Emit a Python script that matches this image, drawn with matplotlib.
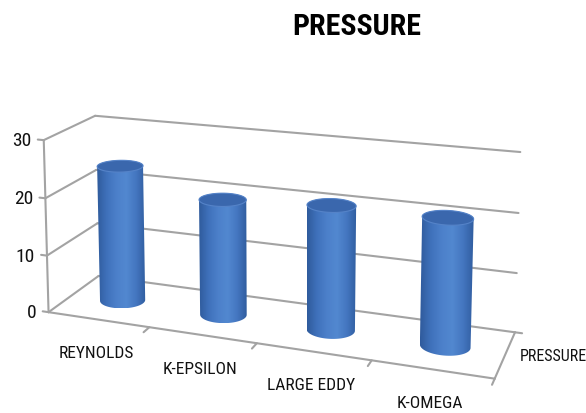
import numpy as np
import matplotlib
matplotlib.use("Agg")
import matplotlib.pyplot as plt
from matplotlib import font_manager
from matplotlib.patches import Polygon
from matplotlib.colors import LinearSegmentedColormap

categories = ["REYNOLDS", "K-EPSILON", "LARGE EDDY", "K-OMEGA"]
pressure = [24, 20, 21, 21]
y_ticks = [0, 10, 20, 30]
series_name = "PRESSURE"
title = "PRESSURE"

# where corners of the 3d box (category, value, depth) land in the picture, in pixels
box_corners = [
    ((0, 0, 0), (50, 312)),
    ((0, 30, 0), (42, 142)),
    ((0, 0, 1), (97, 278)),
    ((0, 30, 1), (97, 116)),
    ((4, 30, 1), (520, 153)),
    ((4, 0, 1), (515, 333)),
    ((4, 0, 0), (495, 380)),
]

# look for a narrow face, the reference text is very condensed
names = sorted({f.name for f in font_manager.fontManager.ttflist})
narrow = None
for cand in ["Liberation Sans Narrow", "DejaVu Sans Condensed", "Roboto Condensed",
             "Open Sans Condensed"]:
    if cand in names:
        narrow = cand
        break
if narrow is None:
    others = [n for n in names if "Narrow" in n or "Condensed" in n]
    narrow = others[0] if others else None
squeeze = 1.0 if narrow else 0.78
if narrow is None:
    narrow = "Liberation Sans"


def fit_camera(corners):
    # plain DLT fit of a 3x4 projection
    rows = []
    for (x, v, d), (u, w) in corners:
        X = np.array([x / 4, v / 30, d, 1.0])
        u, w = u / 100, w / 100
        rows.append(np.concatenate([X, np.zeros(4), -u * X]))
        rows.append(np.concatenate([np.zeros(4), X, -w * X]))
    _, _, vt = np.linalg.svd(np.array(rows))
    return vt[-1].reshape(3, 4)


CAM = fit_camera(box_corners)


def proj(x, v, d):
    x, v, d = np.broadcast_arrays(np.asarray(x, float), np.asarray(v, float), np.asarray(d, float))
    X = np.stack([x.ravel() / 4, v.ravel() / 30, d.ravel(), np.ones(x.size)])
    p = CAM @ X
    return (p[0] / p[2] * 100).reshape(x.shape), (p[1] / p[2] * 100).reshape(x.shape)


def hull(points):
    pts = sorted(map(tuple, points))
    def cross(o, a, b):
        return (a[0] - o[0]) * (b[1] - o[1]) - (a[1] - o[1]) * (b[0] - o[0])
    lower, upper = [], []
    for p in pts:
        while len(lower) >= 2 and cross(lower[-2], lower[-1], p) <= 0:
            lower.pop()
        lower.append(p)
    for p in reversed(pts):
        while len(upper) >= 2 and cross(upper[-2], upper[-1], p) <= 0:
            upper.pop()
        upper.append(p)
    return np.array(lower[:-1] + upper[:-1])


fig = plt.figure(figsize=(5.86, 4.14), dpi=100)
ax = fig.add_axes([0, 0, 1, 1])
ax.axis("off")

n = len(categories)
grid_c = "#a3a3a3"
lw = 1.5

def seg(p, q, **kw):
    xs, ys = proj([p[0], q[0]], [p[1], q[1]], [p[2], q[2]])
    ax.plot(xs, ys, color=grid_c, lw=lw, solid_capstyle="round", zorder=1, **kw)

# walls: back + side gridlines
for v in y_ticks:
    seg((0, v, 0), (0, v, 1))
    seg((0, v, 1), (n, v, 1))
    seg((0, v, 0), (-0.06, v, 0))
# value axis and floor
seg((0, 0, 0), (0, y_ticks[-1], 0))
seg((0, 0, 0), (n, 0, 0))
seg((n, 0, 0), (n, 0, 1))
seg((n, 0, 1), (n + 0.06, 0, 1))
for i in range(1, n + 1):
    seg((i, 0, 0), (i, 0, -0.12))

# cylinders
body_cmap = LinearSegmentedColormap.from_list(
    "cyl", ["#2f5b9c", "#3f71bb", "#4c80ca", "#5288d0", "#4476c0", "#305d9f"])
grad = np.linspace(0, 1, 256)[None, :]
rx, rd = 0.21, 0.2
t = np.linspace(0, 2 * np.pi, 97)
for i, val in enumerate(pressure):
    xc = i + 0.5
    cx = xc + rx * np.cos(t)
    cd = 0.5 + rd * np.sin(t)
    bx, by = proj(cx, 0, cd)
    tx, ty = proj(cx, val, cd)
    pts = hull(np.column_stack([np.r_[bx, tx], np.r_[by, ty]]))
    body = Polygon(pts, closed=True, fc="none", ec="none", zorder=3)
    ax.add_patch(body)
    im = ax.imshow(grad, cmap=body_cmap, aspect="auto", zorder=3,
                   extent=(pts[:, 0].min(), pts[:, 0].max(), pts[:, 1].max(), pts[:, 1].min()))
    im.set_clip_path(body)
    ax.add_patch(Polygon(np.column_stack([tx, ty]), closed=True, fc="#3a67ad",
                         ec="#5583c8", lw=0.8, zorder=4))

# value tick labels
for v in y_ticks:
    px, py = proj(0, v, 0)
    ax.text(px - 12, py, str(v), ha="right", va="center", fontsize=14 * squeeze,
            family=narrow, color="#111111")

# category labels
for i, name in enumerate(categories):
    px, py = proj(i + 0.5, 0, 0)
    ax.text(px - 2, py + 33, name, ha="center", va="center", fontsize=12.5 * squeeze,
            family=narrow, color="#111111")

px, py = proj(n, 0, 0.5)
ax.text(px + 14, py + 1, series_name, ha="left", va="center", fontsize=11.5 * squeeze,
        family=narrow, color="#111111")

fig.text(357 / 586, 1 - 27 / 414, title, ha="center", va="center", fontsize=21.5 * squeeze,
         family=narrow, weight="bold", color="black")

ax.set_xlim(0, 586)
ax.set_ylim(414, 0)
fig.savefig("out.png", dpi=100)
